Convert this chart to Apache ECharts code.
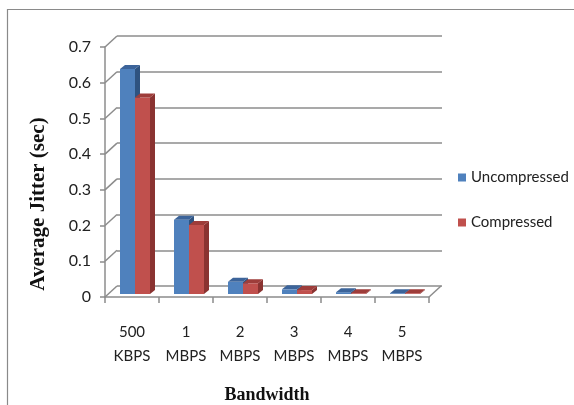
<!DOCTYPE html>
<html><head><meta charset="utf-8">
<script src="https://cdn.jsdelivr.net/npm/echarts@6/dist/echarts.min.js"></script>
<style>html,body{margin:0;padding:0;background:#fff;}#c{width:574px;height:405px;}</style>
</head><body><div id="c"></div>
<script>
const categories = ['500\nKBPS', '1\nMBPS', '2\nMBPS', '3\nMBPS', '4\nMBPS', '5\nMBPS'];
const uncompressed = [0.63, 0.208, 0.034, 0.013, 0.005, 0.002];
const compressed = [0.55, 0.193, 0.030, 0.011, 0.002, 0.002];
const yTicks = [0, 0.1, 0.2, 0.3, 0.4, 0.5, 0.6, 0.7];

const LBL_FONT = 'Lato, "Open Sans", sans-serif';
const GRID_COLOR = '#8c8c8c';
const DEPTH_X = 12, DEPTH_Y = -11;
const palette = [
  {front: '#4F81BD', top: '#3C649A', side: '#2F5380'},
  {front: '#C0504D', top: '#9E3D3A', side: '#8A3331'}
];

function barRender(s) {
  return function (params, api) {
    const cat = api.value(0), val = api.value(1);
    const top = api.coord([cat, val]);
    const base = api.coord([cat, 0]);
    const bw = 15, dx = 3, dy = -3, ox = 5, oy = -4;
    const x0 = top[0] - bw + s * bw + dx;
    const yT = top[1] + dy, yB = base[1] + dy;
    const c = palette[s];
    return {
      type: 'group',
      children: [
        {type: 'rect', shape: {x: x0, y: yT, width: bw, height: yB - yT}, style: {fill: c.front}},
        {type: 'polygon', shape: {points: [[x0 + bw, yT], [x0 + bw + ox, yT + oy], [x0 + bw + ox, yB + oy], [x0 + bw, yB]]}, style: {fill: c.side}},
        {type: 'polygon', shape: {points: [[x0, yT], [x0 + ox, yT + oy], [x0 + bw + ox, yT + oy], [x0 + bw, yT]]}, style: {fill: c.top}}
      ]
    };
  };
}

function diagRender(params, api) {
  const v = api.value(0);
  const p = api.coord([0, v]);
  const w = api.size([1, 0])[0];
  const x0 = p[0] - w / 2;
  const children = [{type: 'line', shape: {x1: x0, y1: p[1], x2: x0 + DEPTH_X, y2: p[1] + DEPTH_Y}, style: {stroke: GRID_COLOR, lineWidth: 1.5}}];
  if (v === 0) {
    const q = api.coord([categories.length - 1, 0]);
    const x1 = q[0] + w / 2;
    children.push({type: 'line', shape: {x1: x1, y1: q[1], x2: x1 + DEPTH_X, y2: q[1] + DEPTH_Y}, style: {stroke: GRID_COLOR, lineWidth: 1.5}});
  }
  return {type: 'group', children: children};
}

const chart = echarts.init(document.getElementById('c'), null, {renderer: 'canvas'});
chart.setOption({
  animation: false,
  backgroundColor: '#fff',
  graphic: [
    {type: 'rect', shape: {x: 7.5, y: 9.5, width: 600, height: 450}, style: {fill: 'none', stroke: '#8a8a8a', lineWidth: 1.2}, z: -10},
    {type: 'text', x: 39, y: 204, rotation: Math.PI / 2,
      style: {text: 'Average Jitter (sec)', fontFamily: '"Liberation Serif", serif', fontWeight: 'bold', fontSize: 21, fill: '#111', align: 'center', verticalAlign: 'middle'}}
  ],
  legend: {
    orient: 'vertical', left: 453, top: 165, itemWidth: 8, itemHeight: 8, itemGap: 30,
    icon: 'rect',
    textStyle: {fontFamily: LBL_FONT, fontSize: 15, color: '#222', padding: [0, 0, 0, 0]},
    data: ['Uncompressed', 'Compressed']
  },
  grid: [
    {left: 105, top: 47, width: 324, height: 250, containLabel: false, outerBoundsMode: 'none'},
    {left: 117, top: 36, width: 325, height: 250, containLabel: false, outerBoundsMode: 'none'}
  ],
  xAxis: [
    {type: 'category', gridIndex: 0, data: categories,
      axisLine: {show: true, lineStyle: {color: GRID_COLOR, width: 1.5}},
      axisTick: {show: true, length: 6, lineStyle: {color: GRID_COLOR, width: 1.5}},
      axisLabel: {fontFamily: LBL_FONT, fontSize: 15, color: '#222', lineHeight: 24, margin: 23},
      name: 'Bandwidth', nameLocation: 'middle', nameGap: 89,
      nameTextStyle: {fontFamily: '"Liberation Serif", serif', fontWeight: 'bold', fontSize: 18, color: '#111'}
    },
    {type: 'category', gridIndex: 1, data: categories, show: false}
  ],
  yAxis: [
    {type: 'value', gridIndex: 0, min: 0, max: 0.7, interval: 0.1,
      axisLine: {show: true, lineStyle: {color: GRID_COLOR, width: 1.5}},
      axisTick: {show: true, length: 5, lineStyle: {color: GRID_COLOR, width: 1.5}},
      splitLine: {show: false},
      axisLabel: {fontFamily: LBL_FONT, fontSize: 16, color: '#222', margin: 14}
    },
    {type: 'value', gridIndex: 1, min: 0, max: 0.7, interval: 0.1,
      axisLine: {show: false}, axisTick: {show: false}, axisLabel: {show: false},
      splitLine: {show: true, lineStyle: {color: GRID_COLOR, width: 1.5}}
    }
  ],
  series: [
    {type: 'custom', name: 'diag', xAxisIndex: 0, yAxisIndex: 0, renderItem: diagRender,
      data: yTicks.map(v => [v]), silent: true, z: 1},
    {type: 'custom', name: 'Uncompressed', xAxisIndex: 0, yAxisIndex: 0, renderItem: barRender(0),
      itemStyle: {color: palette[0].front},
      data: uncompressed.map((v, i) => [i, v]), z: 5},
    {type: 'custom', name: 'Compressed', xAxisIndex: 0, yAxisIndex: 0, renderItem: barRender(1),
      itemStyle: {color: palette[1].front},
      data: compressed.map((v, i) => [i, v]), z: 6}
  ]
});
</script></body></html>
